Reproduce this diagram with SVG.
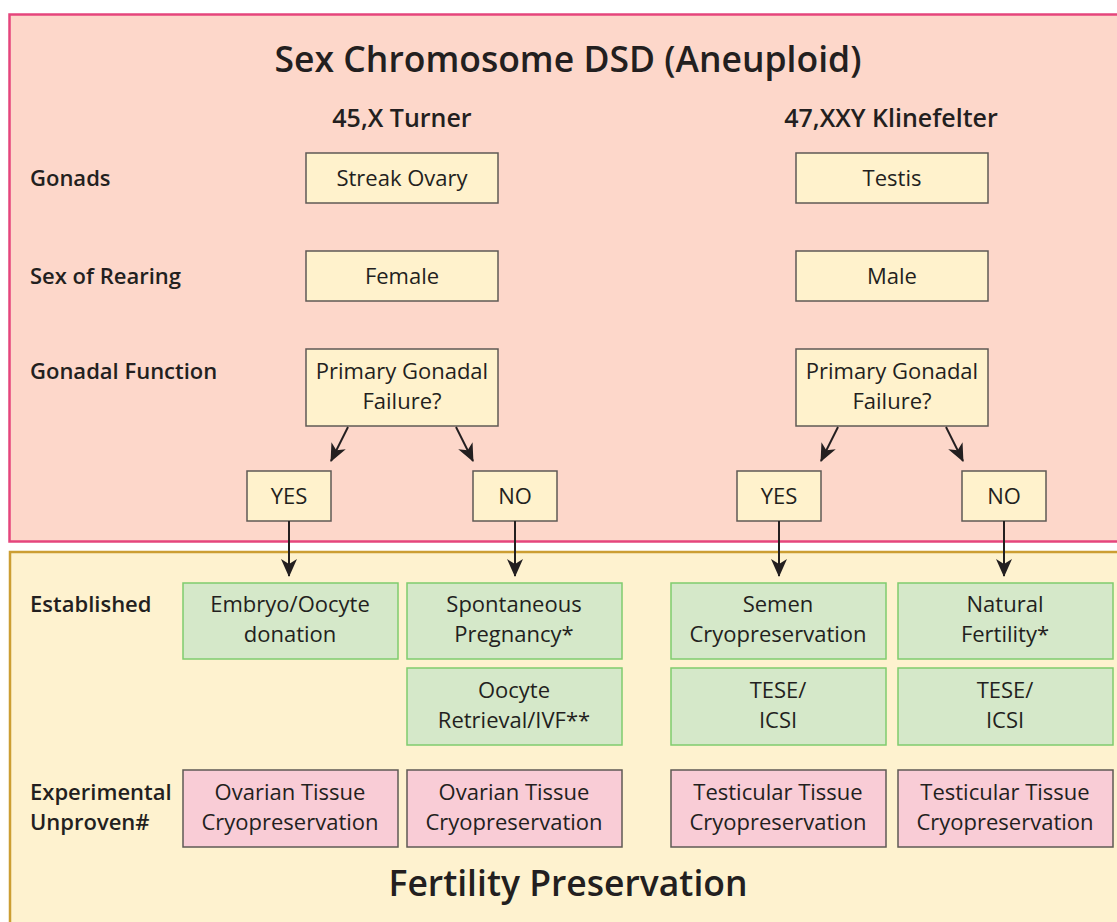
<svg xmlns="http://www.w3.org/2000/svg" width="1117" height="922" viewBox="0 0 1117 922">
<defs>
<style>
.t{font-family:"Open Sans","Noto Sans","Liberation Sans",sans-serif;fill:#231f20}
.h1{font-size:35.5px;font-weight:600;text-anchor:middle}
.h2{font-size:25px;font-weight:600;text-anchor:middle}
.lbl{font-size:22px;font-weight:600}
.bx{font-size:22px;text-anchor:middle}
.y{fill:#fff2cc;stroke:#5f5a55;stroke-width:1.5}
.g{fill:#d5e8c9;stroke:#7fcc6e;stroke-width:1.5}
.p{fill:#f9ccd6;stroke:#5f5a55;stroke-width:1.5}
.c{stroke:#231f20;stroke-width:2;fill:none;marker-end:url(#ah)}
</style>
<marker id="ah" markerUnits="userSpaceOnUse" markerWidth="18" markerHeight="16" viewBox="0 0 18 16" refX="17" refY="8" orient="auto">
<path d="M0,0 L18,8 L0,16 L5,8 z" fill="#231f20"/>
</marker>
</defs>
<rect id="panel-top" x="9.5" y="14.5" width="1120" height="527" fill="#fdd7ca" stroke="#e5457c" stroke-width="2.5"/>
<rect id="panel-bottom" x="10" y="552" width="1120" height="380" fill="#fef2cf" stroke="#cc9e33" stroke-width="2.5"/>
<g id="titles">
<text class="t h1" x="568" y="72">Sex Chromosome DSD (Aneuploid)</text>
<text class="t h2" x="402" y="127">45,X Turner</text>
<text class="t h2" x="891" y="127">47,XXY Klinefelter</text>
<text class="t h1" x="568" y="896">Fertility Preservation</text>
</g>
<g id="row-labels">
<text class="t lbl" x="30" y="186">Gonads</text>
<text class="t lbl" x="30" y="284">Sex of Rearing</text>
<text class="t lbl" x="30" y="379">Gonadal Function</text>
<text class="t lbl" x="30" y="612">Established</text>
<text class="t lbl" x="30" y="800">Experimental</text>
<text class="t lbl" x="30" y="830">Unproven#</text>
</g>
<g id="n-streak"><rect class="y" x="306" y="153" width="192" height="50"/><text class="t bx" x="402" y="186">Streak Ovary</text></g>
<g id="n-testis"><rect class="y" x="796" y="153" width="192" height="50"/><text class="t bx" x="892" y="186">Testis</text></g>
<g id="n-female"><rect class="y" x="306" y="251" width="192" height="50"/><text class="t bx" x="402" y="284">Female</text></g>
<g id="n-male"><rect class="y" x="796" y="251" width="192" height="50"/><text class="t bx" x="892" y="284">Male</text></g>
<g id="n-pgf-l"><rect class="y" x="306" y="349" width="192" height="77"/><text class="t bx" x="402" y="379">Primary Gonadal</text><text class="t bx" x="402" y="409">Failure?</text></g>
<g id="n-pgf-r"><rect class="y" x="796" y="349" width="192" height="77"/><text class="t bx" x="892" y="379">Primary Gonadal</text><text class="t bx" x="892" y="409">Failure?</text></g>
<g id="n-yes-l"><rect class="y" x="247" y="471" width="84" height="50"/><text class="t bx" x="289" y="504">YES</text></g>
<g id="n-no-l"><rect class="y" x="473" y="471" width="84" height="50"/><text class="t bx" x="515" y="504">NO</text></g>
<g id="n-yes-r"><rect class="y" x="737" y="471" width="84" height="50"/><text class="t bx" x="779" y="504">YES</text></g>
<g id="n-no-r"><rect class="y" x="962" y="471" width="84" height="50"/><text class="t bx" x="1004" y="504">NO</text></g>
<g id="n-embryo"><rect class="g" x="183" y="583" width="215" height="76"/><text class="t bx" x="290" y="612">Embryo/Oocyte</text><text class="t bx" x="290" y="642">donation</text></g>
<g id="n-spont"><rect class="g" x="407" y="583" width="215" height="76"/><text class="t bx" x="514" y="612">Spontaneous</text><text class="t bx" x="514" y="642">Pregnancy*</text></g>
<g id="n-oocyte"><rect class="g" x="407" y="668" width="215" height="77"/><text class="t bx" x="514" y="698">Oocyte</text><text class="t bx" x="514" y="728">Retrieval/IVF**</text></g>
<g id="n-semen"><rect class="g" x="671" y="583" width="215" height="76"/><text class="t bx" x="778" y="612">Semen</text><text class="t bx" x="778" y="642">Cryopreservation</text></g>
<g id="n-natural"><rect class="g" x="898" y="583" width="215" height="76"/><text class="t bx" x="1005" y="612">Natural</text><text class="t bx" x="1005" y="642">Fertility*</text></g>
<g id="n-tese-l"><rect class="g" x="671" y="668" width="215" height="77"/><text class="t bx" x="778" y="698">TESE/</text><text class="t bx" x="778" y="728">ICSI</text></g>
<g id="n-tese-r"><rect class="g" x="898" y="668" width="215" height="77"/><text class="t bx" x="1005" y="698">TESE/</text><text class="t bx" x="1005" y="728">ICSI</text></g>
<g id="n-ovarian-1"><rect class="p" x="183" y="770" width="215" height="77"/><text class="t bx" x="290" y="800">Ovarian Tissue</text><text class="t bx" x="290" y="830">Cryopreservation</text></g>
<g id="n-ovarian-2"><rect class="p" x="407" y="770" width="215" height="77"/><text class="t bx" x="514" y="800">Ovarian Tissue</text><text class="t bx" x="514" y="830">Cryopreservation</text></g>
<g id="n-testic-1"><rect class="p" x="671" y="770" width="215" height="77"/><text class="t bx" x="778" y="800">Testicular Tissue</text><text class="t bx" x="778" y="830">Cryopreservation</text></g>
<g id="n-testic-2"><rect class="p" x="898" y="770" width="215" height="77"/><text class="t bx" x="1005" y="800">Testicular Tissue</text><text class="t bx" x="1005" y="830">Cryopreservation</text></g>
<g id="connectors">
<line class="c" x1="348" y1="427" x2="331" y2="461"/>
<line class="c" x1="456" y1="427" x2="473" y2="461"/>
<line class="c" x1="838" y1="427" x2="821" y2="461"/>
<line class="c" x1="946" y1="427" x2="963" y2="461"/>
<line class="c" x1="289" y1="521" x2="289" y2="576"/>
<line class="c" x1="515" y1="521" x2="515" y2="576"/>
<line class="c" x1="779" y1="521" x2="779" y2="576"/>
<line class="c" x1="1004" y1="521" x2="1004" y2="576"/>
</g>
</svg>
